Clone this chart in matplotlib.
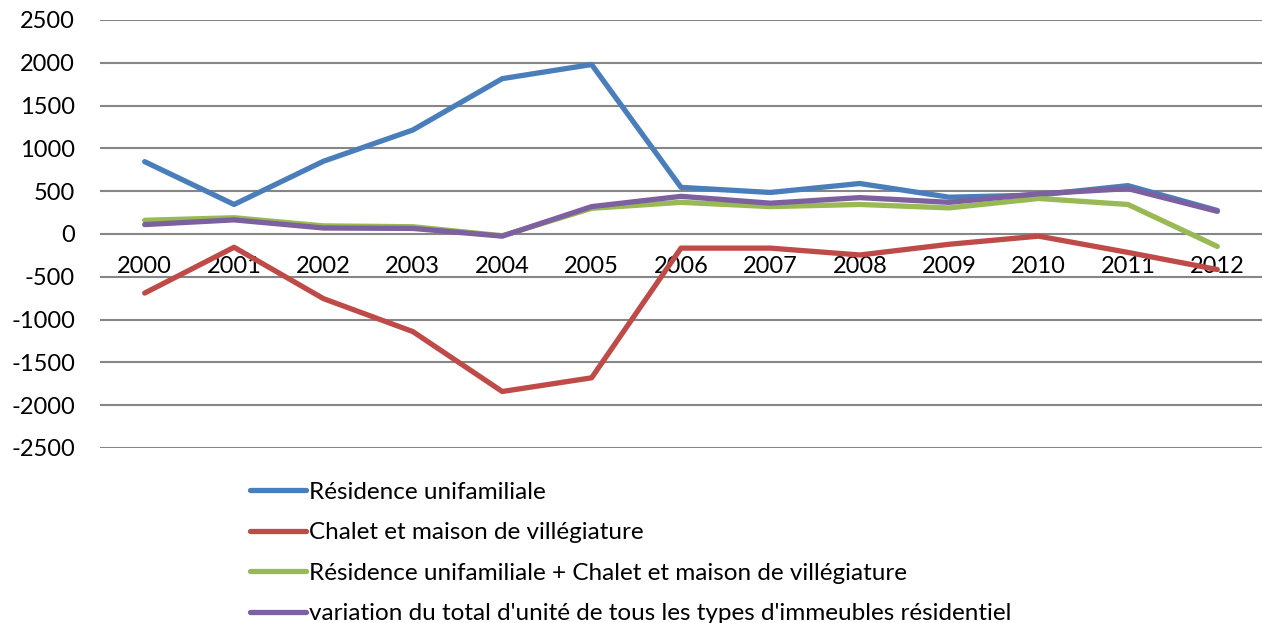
import numpy as np
import matplotlib.pyplot as plt

plt.rcParams['font.family'] = ['Lato', 'DejaVu Sans']
plt.rcParams['axes.unicode_minus'] = False

# Données
annees = ['2000', '2001', '2002', '2003', '2004', '2005', '2006',
          '2007', '2008', '2009', '2010', '2011', '2012']
residence = [845, 345, 850, 1215, 1815, 1980, 545, 485, 590, 430, 455, 565, 275]
chalet = [-690, -155, -755, -1140, -1840, -1680, -165, -165, -245, -120, -25, -215, -415]
somme = [160, 190, 95, 85, -20, 300, 370, 320, 345, 305, 415, 345, -145]
total = [110, 165, 70, 65, -25, 320, 440, 360, 425, 370, 470, 530, 265]

noms = ['Résidence unifamiliale',
        'Chalet et maison de villégiature',
        'Résidence unifamiliale + Chalet et maison de villégiature',
        "variation du total d'unité de tous les types d'immeubles résidentiel"]
couleurs = ['#4A7EBB', '#BE4B48', '#98B954', '#7D60A0']

fig = plt.figure(figsize=(12.62, 6.23), dpi=100)
ax = fig.add_axes([100 / 1262, 175 / 623, 1162 / 1262, 428 / 623])

x = np.arange(len(annees))
for serie, nom, c in zip([residence, chalet, somme, total], noms, couleurs):
    ax.plot(x, serie, color=c, linewidth=3.8, label=nom, solid_capstyle='round')

ax.set_xlim(-0.5, len(annees) - 0.5)
ax.set_ylim(-2500, 2500)
ax.set_yticks(np.arange(-2500, 2501, 500))
ax.yaxis.grid(True, color='#868686', linewidth=1.5)
ax.set_axisbelow(True)

# axe des x à zéro
ax.spines['bottom'].set_position(('data', 0))
for s in ['top', 'right', 'left', 'bottom']:
    ax.spines[s].set_visible(False)
ax.set_xticks(x)
ax.set_xticklabels(annees)
ax.tick_params(axis='x', length=0, pad=16, labelsize=17)
ax.tick_params(axis='y', length=0, pad=18, labelsize=17)

# légende sous le graphique (la dernière ligne est coupée comme dans l'original)
fig.legend(loc='upper left', bbox_to_anchor=(240 / 1262, 1 - 472 / 623),
           frameon=False, fontsize=17.5, handlelength=2.3, handletextpad=0.15,
           labelspacing=0.8, borderaxespad=0)

fig.savefig('out.png', dpi=100)
